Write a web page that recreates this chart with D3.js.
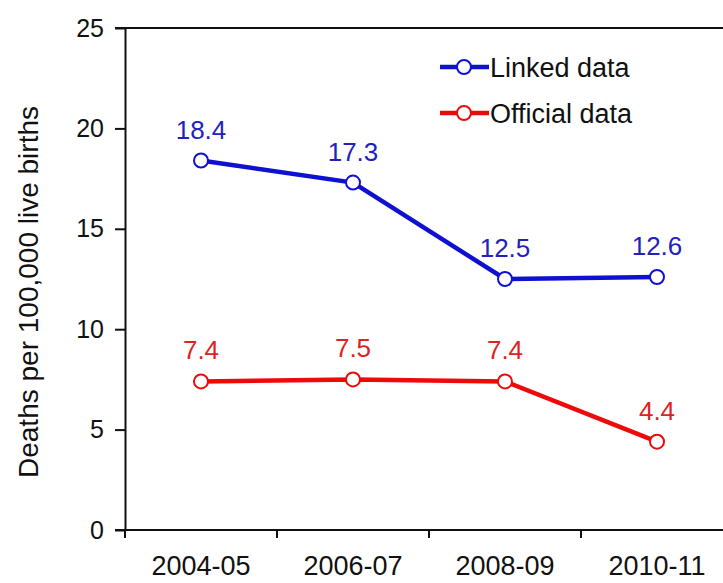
<!DOCTYPE html>
<html>
<head>
<meta charset="utf-8">
<script src="https://cdn.jsdelivr.net/npm/d3@7"></script>
<style>
  body { margin: 0; background: #fff; }
  text { font-family: "Liberation Sans", Arial, sans-serif; }
</style>
</head>
<body>
<svg id="chart" width="723" height="583"></svg>
<script>
const periods = ["2004-05", "2006-07", "2008-09", "2010-11"];
const linked = [18.4, 17.3, 12.5, 12.6];
const official = [7.4, 7.5, 7.4, 4.4];
const yTicks = [0, 5, 10, 15, 20, 25];
const seriesNames = ["Linked data", "Official data"];

let svg = d3.select("#chart");

let scaleX = d3.scaleBand().domain(periods).range([125, 733]);
let scaleY = d3.scaleLinear().domain([0, 25]).range([530, 28]);
let cx = d => scaleX(d) + scaleX.bandwidth() / 2;

// Top frame line
svg.append("line")
    .attr("x1", 115).attr("x2", 723)
    .attr("y1", scaleY(25)).attr("y2", scaleY(25))
    .attr("stroke", "#111").attr("stroke-width", 2);

// Y axis
let yAxis = svg.append("g")
    .attr("transform", "translate(125,0)")
    .call(d3.axisLeft(scaleY).tickValues(yTicks).tickSize(10).tickPadding(11).tickSizeOuter(0));
yAxis.select(".domain").attr("stroke", "#111").attr("stroke-width", 2);
yAxis.selectAll(".tick line").attr("stroke", "#111").attr("stroke-width", 2);
yAxis.selectAll(".tick text").attr("font-size", 25).attr("fill", "#111");

// X axis with ticks between categories
let xAxis = svg.append("g").attr("transform", "translate(0,530)");
xAxis.append("line")
    .attr("x1", 115).attr("x2", 723).attr("y1", 0).attr("y2", 0)
    .attr("stroke", "#111").attr("stroke-width", 2);
periods.forEach(p => {
    xAxis.append("line")
        .attr("x1", scaleX(p)).attr("x2", scaleX(p))
        .attr("y1", 0).attr("y2", 8)
        .attr("stroke", "#111").attr("stroke-width", 2);
    xAxis.append("text")
        .attr("x", cx(p)).attr("y", 45)
        .attr("text-anchor", "middle")
        .attr("font-size", 27).attr("fill", "#111")
        .text(p);
});

// Y axis title
svg.append("text")
    .attr("transform", "translate(38,292) rotate(-90)")
    .attr("text-anchor", "middle")
    .attr("font-size", 28).attr("fill", "#111")
    .text("Deaths per 100,000 live births");

const series = [
    { name: seriesNames[0], values: linked, color: "#1010d0", label: "#2222bb" },
    { name: seriesNames[1], values: official, color: "#ee0a0a", label: "#dd2222" }
];

let line = d3.line()
    .x((d, i) => cx(periods[i]))
    .y(d => scaleY(d));

series.forEach(s => {
    svg.append("path")
        .datum(s.values)
        .attr("fill", "none")
        .attr("stroke", s.color)
        .attr("stroke-width", 4.5)
        .attr("d", line);

    s.values.forEach((v, i) => {
        svg.append("circle")
            .attr("cx", cx(periods[i])).attr("cy", scaleY(v)).attr("r", 7)
            .attr("fill", "#fff").attr("stroke", s.color).attr("stroke-width", 2);
        svg.append("text")
            .attr("x", cx(periods[i])).attr("y", scaleY(v) - 22)
            .attr("text-anchor", "middle")
            .attr("font-size", 26).attr("fill", s.label)
            .text(v.toFixed(1));
    });
});

// Legend
series.forEach((s, i) => {
    let y = 67 + i * 46;
    svg.append("line")
        .attr("x1", 440).attr("x2", 489).attr("y1", y).attr("y2", y)
        .attr("stroke", s.color).attr("stroke-width", 4.5);
    svg.append("circle")
        .attr("cx", 464).attr("cy", y).attr("r", 7)
        .attr("fill", "#fff").attr("stroke", s.color).attr("stroke-width", 2);
    svg.append("text")
        .attr("x", 490).attr("y", y + 10)
        .attr("font-size", 27).attr("fill", "#111")
        .text(s.name);
});
</script>
</body>
</html>
